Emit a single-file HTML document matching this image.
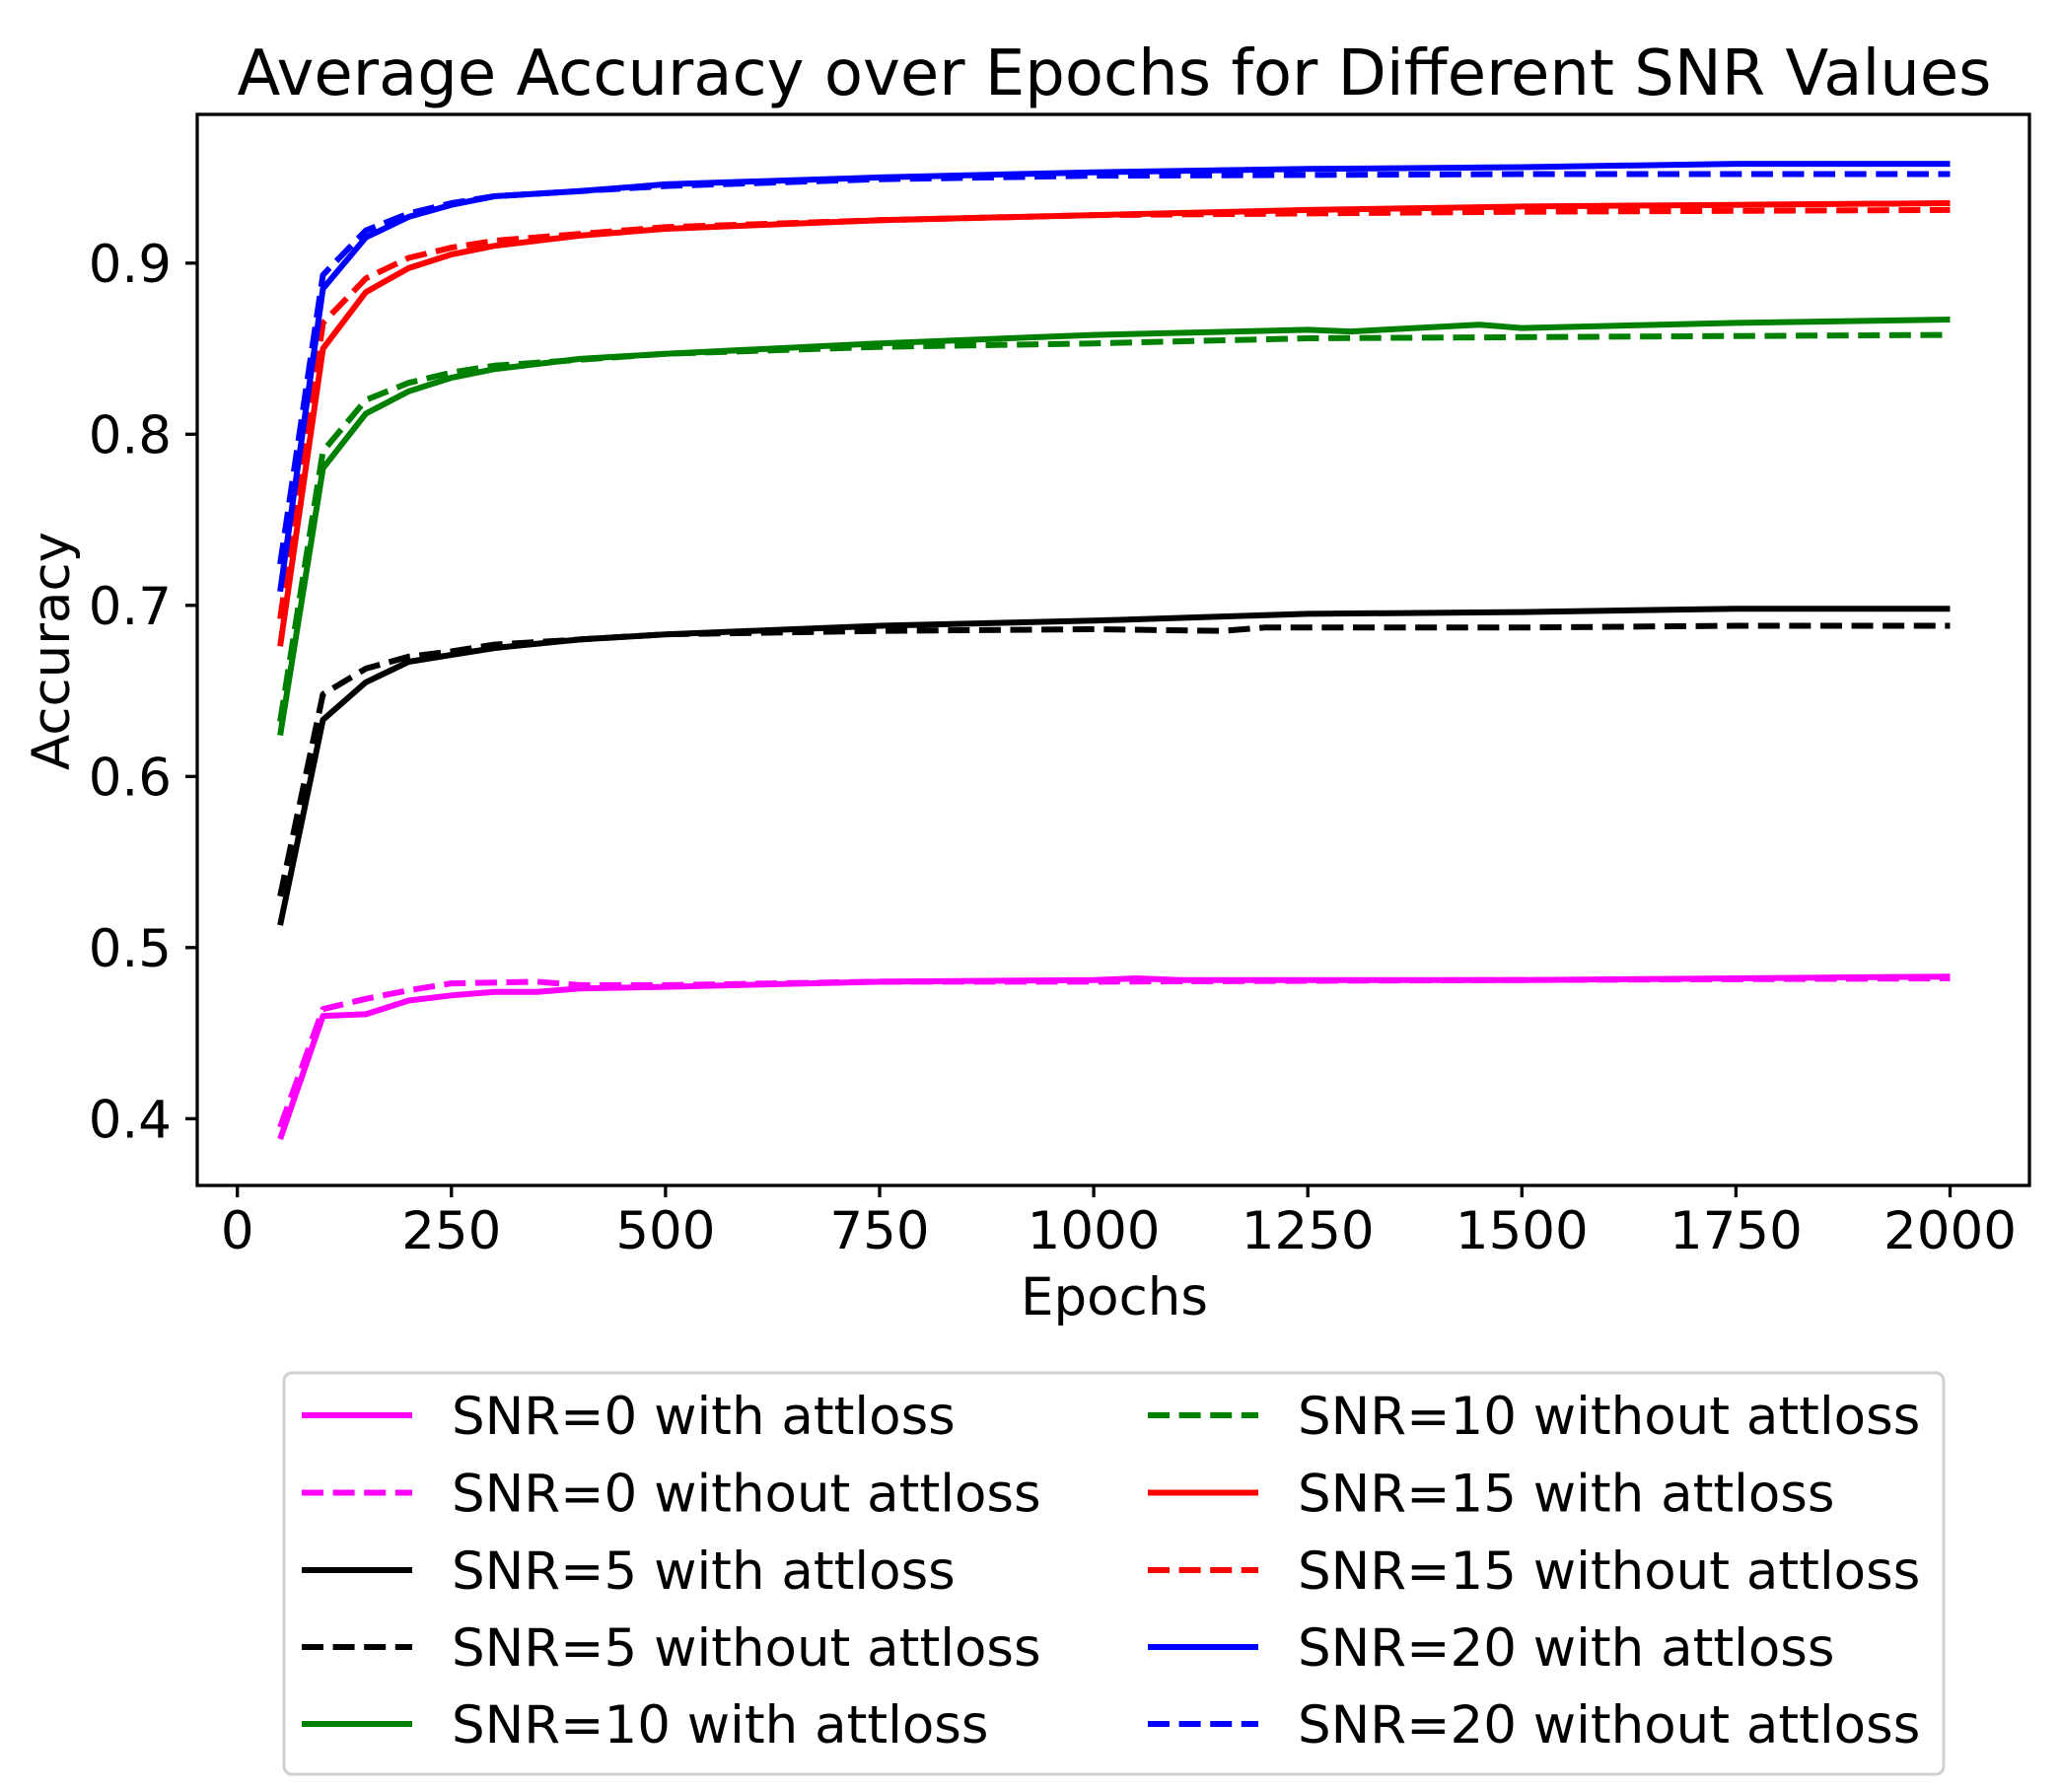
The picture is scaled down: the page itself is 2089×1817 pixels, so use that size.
<!DOCTYPE html>
<html><head><meta charset="utf-8"><style>html,body{margin:0;padding:0;background:#fff}svg{display:block}</style></head>
<body>
<svg width="2089" height="1817" viewBox="0 0 2089 1817" xmlns="http://www.w3.org/2000/svg" font-family="'DejaVu Sans','Liberation Sans',sans-serif">
<rect width="2089" height="1817" fill="#fff"/>
<text x="1130" y="96" font-size="64" text-anchor="middle" textLength="1779" lengthAdjust="spacingAndGlyphs">Average Accuracy over Epochs for Different SNR Values</text>
<defs><clipPath id="c"><rect x="200" y="116" width="1858" height="1086"/></clipPath></defs>
<g clip-path="url(#c)" fill="none" stroke-width="6" stroke-linejoin="round" stroke-linecap="butt">
<polyline stroke="#ff00ff" points="284.1,1155 327.5,1030.1 371,1028.4 414.4,1014.5 457.8,1009.3 501.2,1005.8 544.6,1005.8 588.1,1002.3 674.9,1000.6 892,995.4 1109.1,993.7 1152.5,992 1196,993.7 1543.3,993.7 1760.4,992 1977.5,990.2"/>
<polyline stroke="#ff00ff" stroke-dasharray="22,9.6" points="284.1,1142.9 327.5,1023.2 371,1012.8 414.4,1004.1 457.8,997.1 544.6,995.4 588.1,998.9 674.9,998.9 892,995.4 1109.1,995.4 1977.5,992"/>
<polyline stroke="#000" points="284.1,938.1 327.5,729.9 371,691.8 414.4,671 457.8,664 501.2,657.1 588.1,648.4 674.9,643.2 892,634.5 1109.1,629.3 1326.2,622.4 1543.3,620.6 1760.4,617.2 1977.5,617.2"/>
<polyline stroke="#000" stroke-dasharray="22,9.6" points="284.1,908.7 327.5,703.9 371,677.9 414.4,665.8 457.8,660.5 501.2,653.6 674.9,643.2 892,639.7 1109.1,638 1239.4,639.7 1282.8,636.3 1543.3,636.3 1760.4,634.5 1977.5,634.5"/>
<polyline stroke="#008000" points="284.1,745.6 327.5,474.9 371,419.4 414.4,396.8 457.8,383 501.2,374.3 588.1,363.9 674.9,358.7 892,348.2 1109.1,339.6 1326.2,334.4 1369.6,336.1 1500,329.2 1543.3,332.6 1760.4,327.4 1977.5,324"/>
<polyline stroke="#008000" stroke-dasharray="22,9.6" points="284.1,731.7 327.5,457.6 371,405.5 414.4,388.2 457.8,377.7 501.2,370.8 674.9,358.7 892,351.7 1109.1,348.2 1326.2,343 1977.5,339.6"/>
<polyline stroke="#ff0000" points="284.1,655.3 327.5,353.5 371,296.2 414.4,271.9 457.8,258 501.2,249.3 588.1,238.9 674.9,232 892,223.3 1109.1,218.1 1326.2,212.9 1543.3,209.4 1760.4,207.7 1977.5,206"/>
<polyline stroke="#ff0000" stroke-dasharray="22,9.6" points="284.1,627.6 327.5,327.4 371,282.3 414.4,261.5 457.8,251.1 501.2,244.1 674.9,230.3 892,223.3 1109.1,218.1 1543.3,214.7 1977.5,212.9"/>
<polyline stroke="#0000ff" points="284.1,599.8 327.5,292.7 371,240.7 414.4,219.9 457.8,207.7 501.2,199 588.1,193.8 674.9,186.9 892,179.9 1109.1,174.7 1326.2,171.3 1543.3,169.5 1760.4,166.1 1977.5,166.1"/>
<polyline stroke="#0000ff" stroke-dasharray="22,9.6" points="284.1,572.1 327.5,278.8 371,233.7 414.4,216.4 457.8,206 501.2,199 674.9,188.6 892,181.7 1109.1,178.2 1543.3,176.5 1977.5,176.5"/>
</g>
<rect x="200" y="116" width="1858" height="1086" fill="none" stroke="#000" stroke-width="3.3"/>
<g stroke="#000" stroke-width="3.3">
<line x1="240.7" y1="1202" x2="240.7" y2="1214"/><line x1="457.8" y1="1202" x2="457.8" y2="1214"/><line x1="674.9" y1="1202" x2="674.9" y2="1214"/><line x1="892" y1="1202" x2="892" y2="1214"/><line x1="1109.1" y1="1202" x2="1109.1" y2="1214"/><line x1="1326.2" y1="1202" x2="1326.2" y2="1214"/><line x1="1543.3" y1="1202" x2="1543.3" y2="1214"/><line x1="1760.4" y1="1202" x2="1760.4" y2="1214"/><line x1="1977.5" y1="1202" x2="1977.5" y2="1214"/>
<line x1="188" y1="1134.3" x2="200" y2="1134.3"/><line x1="188" y1="960.8" x2="200" y2="960.8"/><line x1="188" y1="787.3" x2="200" y2="787.3"/><line x1="188" y1="613.8" x2="200" y2="613.8"/><line x1="188" y1="440.3" x2="200" y2="440.3"/><line x1="188" y1="266.8" x2="200" y2="266.8"/>
</g>
<g font-size="53" text-anchor="middle">
<text x="240.7" y="1266">0</text><text x="457.8" y="1266">250</text><text x="674.9" y="1266">500</text><text x="892" y="1266">750</text><text x="1109.1" y="1266">1000</text><text x="1326.2" y="1266">1250</text><text x="1543.3" y="1266">1500</text><text x="1760.4" y="1266">1750</text><text x="1977.5" y="1266">2000</text>
<text x="1130" y="1333">Epochs</text>
<text transform="translate(70,660) rotate(-90)">Accuracy</text>
</g>
<g font-size="53" text-anchor="end">
<text x="174" y="1153.5">0.4</text><text x="174" y="980">0.5</text><text x="174" y="806.5">0.6</text><text x="174" y="633">0.7</text><text x="174" y="459.5">0.8</text><text x="174" y="286">0.9</text>
</g>
<rect x="288" y="1392" width="1683" height="407" rx="8" fill="#fff" stroke="#d0d0d0" stroke-width="3"/>
<g stroke-width="6" fill="none">
<line x1="306" y1="1435" x2="418" y2="1435" stroke="#ff00ff"/>
<line x1="306" y1="1513.5" x2="418" y2="1513.5" stroke="#ff00ff" stroke-dasharray="22,9.6"/>
<line x1="306" y1="1592" x2="418" y2="1592" stroke="#000"/>
<line x1="306" y1="1670" x2="418" y2="1670" stroke="#000" stroke-dasharray="22,9.6"/>
<line x1="306" y1="1748" x2="418" y2="1748" stroke="#008000"/>
<line x1="1164" y1="1435" x2="1276" y2="1435" stroke="#008000" stroke-dasharray="22,9.6"/>
<line x1="1164" y1="1513.5" x2="1276" y2="1513.5" stroke="#ff0000"/>
<line x1="1164" y1="1592" x2="1276" y2="1592" stroke="#ff0000" stroke-dasharray="22,9.6"/>
<line x1="1164" y1="1670" x2="1276" y2="1670" stroke="#0000ff"/>
<line x1="1164" y1="1748" x2="1276" y2="1748" stroke="#0000ff" stroke-dasharray="22,9.6"/>
</g>
<g font-size="53">
<text x="458" y="1454">SNR=0 with attloss</text>
<text x="458" y="1532.5">SNR=0 without attloss</text>
<text x="458" y="1611">SNR=5 with attloss</text>
<text x="458" y="1689">SNR=5 without attloss</text>
<text x="458" y="1767">SNR=10 with attloss</text>
<text x="1316" y="1454">SNR=10 without attloss</text>
<text x="1316" y="1532.5">SNR=15 with attloss</text>
<text x="1316" y="1611">SNR=15 without attloss</text>
<text x="1316" y="1689">SNR=20 with attloss</text>
<text x="1316" y="1767">SNR=20 without attloss</text>
</g>
</svg>
</body></html>
